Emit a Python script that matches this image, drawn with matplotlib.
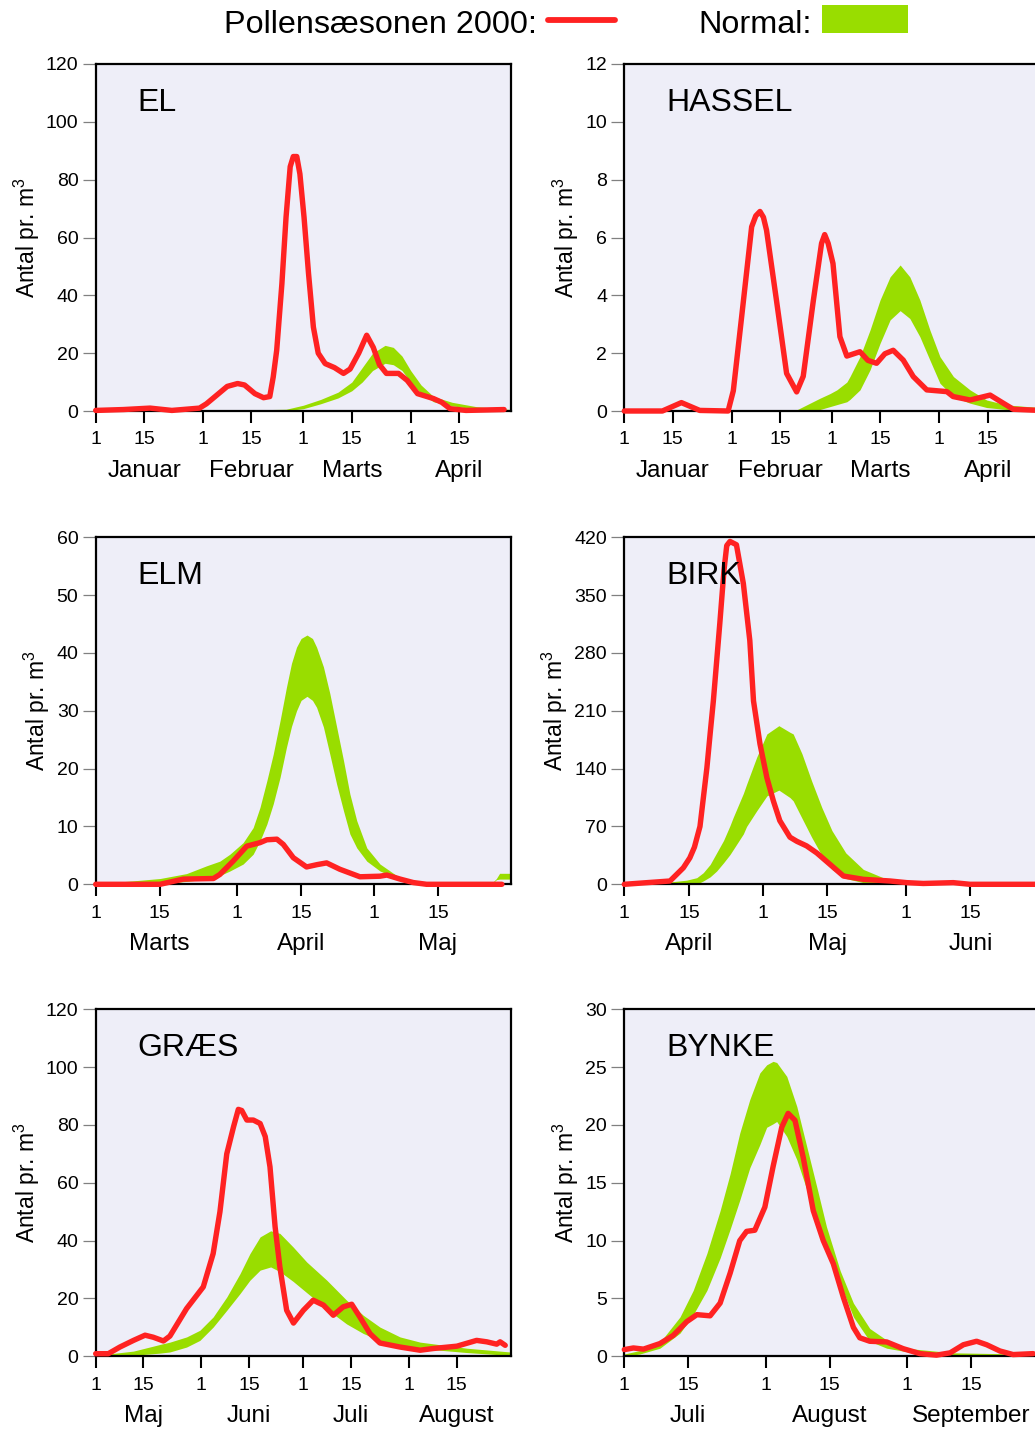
import matplotlib
matplotlib.use("Agg")
import matplotlib.pyplot as plt
from matplotlib.patches import Rectangle
from matplotlib.lines import Line2D
import numpy as np

plt.rcParams['font.family'] = ['Liberation Sans', 'DejaVu Sans']
plt.rcParams['mathtext.fontset'] = 'custom'
plt.rcParams['mathtext.rm'] = 'Liberation Sans'
plt.rcParams['mathtext.it'] = 'Liberation Sans:italic'

RED = '#ff2222'
GREEN = '#99dd00'
BG = '#eeeef8'

# months of 2000, danish names
month_names = ["Januar", "Februar", "Marts", "April", "Maj", "Juni",
               "Juli", "August", "September"]
month_days = [31, 29, 31, 30, 31, 30, 31, 31, 30]

# ---- EL (Jan-Apr), x = days since 1 Jan
el_red_day = [0, 8, 15.7, 22, 30, 32, 35, 38, 41, 43, 46, 48.5, 50.3, 51.3, 52.3, 53.8,
              55, 56.2, 57.1, 58.1, 59, 60.2, 61.5, 62.9, 64.3, 66.3, 69, 71.6, 73.5, 76,
              78.3, 80.2, 82, 84, 87.5, 90, 93, 97.6, 100, 102.4, 107, 118]
el_red_val = [0.2, 0.5, 1.0, 0.2, 1.0, 2.5, 5.5, 8.5, 9.5, 9.0, 6.0, 4.6, 5.0, 11.8, 21, 44,
              67, 84.5, 88, 88, 82, 67, 47.5, 29, 20, 16.4, 15, 13, 14.5, 20,
              26.2, 22, 16, 13, 13, 10.6, 6, 4.3, 3, 0.8, 0.2, 0.5]
el_norm_day = [0, 45, 55, 60, 65, 70, 74, 77, 80, 83.6, 86, 88.5, 91, 94, 97.6, 103, 110, 120]
el_norm_hi = [0.3, 0.4, 0.6, 2, 4, 6.5, 10, 15, 20, 22.7, 22, 19, 14, 9, 5, 3, 1.5, 0.5]
el_norm_lo = [0, 0, 0.1, 0.8, 2.5, 4.5, 7, 10, 14, 16.5, 16, 14, 10, 6, 3.2, 1.8, 0.6, 0]

# ---- HASSEL (Jan-Apr)
ha_red_day = [0, 11, 16.5, 21.8, 30, 31.5, 33.9, 36.8, 38, 39.2, 40.2, 41.1, 44, 46.9,
              49.8, 51.7, 54.6, 57, 57.9, 58.9, 60.3, 62.3, 64.3, 68.1, 70.4, 72.9, 75.3,
              77.7, 80.6, 83.5, 87.4, 93.2, 95, 99.9, 105.7, 109.5, 112.4, 120]
ha_red_val = [0, 0, 0.29, 0.02, 0, 0.7, 3.25, 6.37, 6.75, 6.9, 6.7, 6.25, 3.8, 1.3,
              0.66, 1.2, 3.8, 5.8, 6.1, 5.8, 5.1, 2.57, 1.9, 2.05, 1.75, 1.65, 1.98,
              2.1, 1.76, 1.19, 0.73, 0.67, 0.5, 0.38, 0.55, 0.27, 0.06, 0.02]
ha_norm_day = [0, 45, 50, 56.5, 59.4, 61.4, 64.3, 65.2, 68.1, 71.0, 73.9, 76.8, 79.7,
               82.5, 85.4, 88.3, 91.2, 95.1, 99.9, 104.7, 110.5, 120]
ha_norm_hi = [0, 0, 0.05, 0.44, 0.6, 0.73, 1.0, 1.19, 1.88, 2.8, 3.84, 4.64, 5.05,
              4.64, 3.84, 2.8, 1.88, 1.19, 0.73, 0.38, 0.21, 0.12]
ha_norm_lo = [0, 0, 0, 0.05, 0.15, 0.22, 0.32, 0.4, 0.73, 1.42, 2.34, 3.15, 3.47,
              3.2, 2.57, 1.76, 0.96, 0.49, 0.27, 0.12, 0.05, 0]

# ---- ELM (Mar-May), x = days since 1 Mar
elm_red_day = [0, 14.1, 19.2, 25.8, 27.2, 30.1, 33.1, 36.0, 37.5, 39.7, 41.1, 43.3, 46.2,
               48.5, 50.6, 53.5, 57.9, 62.3, 63.8, 66.7, 69.6, 72.5, 89.0]
elm_red_val = [0, 0, 0.9, 1.0, 1.7, 4.0, 6.6, 7.2, 7.7, 7.8, 6.9, 4.6, 3.0,
               3.4, 3.7, 2.6, 1.3, 1.4, 1.6, 0.9, 0.3, 0, 0]
elm_norm_day = [0, 8.3, 14.1, 19.9, 24.3, 27.2, 29.4, 32.3, 34.5, 36.0, 37.5, 38.9, 40.4,
                41.8, 42.9, 44.0, 45.0, 46.3, 47.5, 48.4, 49.9, 51.3, 52.8, 54.3, 55.7,
                57.2, 59.4, 62.3, 66.7, 70, 72.5, 86.7, 87.8, 88.5, 91]
elm_norm_hi = [0.1, 0.6, 1.0, 1.85, 3.2, 4.0, 5.2, 7.2, 9.8, 13.3, 17.9, 22.5, 28.3,
               34.1, 38.2, 41.0, 42.5, 43.1, 42.5, 41, 37.6, 33, 27.2, 21.4, 15.6,
               11, 6.3, 3.5, 1.1, 0.4, 0.2, 0.1, 1.0, 1.9, 1.9]
elm_norm_lo = [0, 0.05, 0.1, 0.5, 0.9, 1.5, 2.3, 3.5, 5.2, 7.5, 10.4, 13.9, 18.5,
               23.7, 27.3, 30.0, 31.8, 32.5, 31.8, 30.6, 27.2, 22.5, 17.3, 12.7, 8.7,
               6.3, 4.0, 2.3, 0.8, 0.1, 0, 0, 0.8, 0.9, 0.9]

# ---- BIRK (Apr-Jun), x = days since 1 Apr
bi_red_day = [0, 9.9, 12.8, 14.2, 15.2, 16.4, 17.9, 18.6, 19.3, 20.7, 21.6, 22.2, 22.9,
              24.3, 25.8, 27.2, 28.0, 29.4, 30.9, 32.3, 33.7, 35.9, 37.4, 39.5, 41.7,
              44.6, 47.5, 51.8, 57.6, 61.2, 64.8, 71.3, 74.9, 89.0]
bi_red_val = [0, 4, 20, 32, 45, 70, 141, 182, 222, 316, 380, 410, 415,
              411, 364, 295, 222, 170, 129, 101, 77, 57, 52, 46.5, 38,
              24, 10, 6, 4, 2, 1, 2, 0, 0]
bi_norm_day = [0, 8.5, 13.5, 15.7, 17.1, 18.6, 20.0, 21.5, 22.9, 23.6, 25.8, 26.5, 28.7,
               30.9, 33.5, 35.9, 36.6, 38.5, 40.6, 42.8, 45.0, 48.0, 51.8, 56.1, 61.2,
               78.6, 89.0]
bi_norm_hi = [0, 2, 5, 8, 14, 24, 38, 53, 71, 81, 110, 121, 154,
              182, 192, 184, 182, 158, 125, 93, 65, 38, 18, 8, 2,
              1, 3]
bi_norm_lo = [0, 0, 0, 0, 4, 9, 16, 26, 36, 42, 61, 70, 89,
              107, 114, 105, 101, 80, 57, 35, 18, 7, 2, 0, 0,
              0, 0]

# ---- GRAES (May-Aug), x = days since 1 May
gr_red_day = [0, 3.7, 7.1, 11.1, 14.5, 16.9, 19.9, 21.8, 26.7, 31.6, 34.5, 36.5,
              38.5, 40.5, 41.9, 42.9, 44.4, 46.3, 48.3, 49.8, 51.2, 52.7, 54.1, 56.1,
              58.1, 61.0, 63.9, 66.9, 69.8, 72.7, 75.2, 77.6, 80.6, 83.5, 89.4, 95.3,
              99.2, 106.1, 111.9, 114.9, 117.8, 118.8, 120.3]
gr_red_val = [0.9, 0.9, 3.2, 5.5, 7.3, 6.6, 5.3, 7.0, 16.5, 24, 35.5, 50,
              70, 79.4, 85.4, 85, 81.7, 81.7, 80.5, 76, 65.5, 44.8, 30.9, 15.9,
              11.5, 15.9, 19.4, 17.7, 14.2, 17.1, 18.0, 13.6, 7.8, 4.6, 3.2, 2.1,
              2.7, 3.5, 5.5, 5, 4.2, 5, 3.8]
gr_norm_day = [0, 11.1, 18.9, 21.8, 26.7, 30.6, 34.5, 38.5, 42.4, 45.3, 48.3, 51.4,
               54.1, 58.0, 62.0, 67.9, 73.7, 78.6, 83.5, 89.4, 95.3, 109.0, 121.7]
gr_norm_hi = [0.3, 1.8, 4.1, 4.9, 6.7, 9.0, 13.6, 20.5, 28.6, 35.5, 41.3, 43.4,
              42.5, 37.8, 32.6, 26.3, 19.4, 14.2, 10.1, 6.7, 4.9, 2.8, 1.5]
gr_norm_lo = [0, 0.35, 1.1, 1.5, 3.2, 5.5, 10.1, 15.9, 21.7, 26.3, 29.8, 30.9,
              29.3, 25.9, 22.0, 16.3, 11.2, 7.9, 5.5, 3.2, 2.7, 1.3, 0.3]

# ---- BYNKE (Jul-Sep), x = days since 1 Jul
by_red_day = [0, 2.0, 4.2, 7.8, 10.7, 13.7, 15.9, 18.8, 21.0, 23.2, 25.3, 26.8, 28.6,
              30.8, 32.6, 34.5, 35.9, 37.4, 39.2, 41.4, 43.6, 45.8, 48.0, 50.2, 51.6,
              53.8, 57.5, 61.1, 64.8, 68.4, 71.4, 74.3, 77.2, 79.4, 82.3, 85.2, 89.6]
by_red_val = [0.58, 0.72, 0.62, 1.1, 1.8, 3.0, 3.6, 3.5, 4.6, 7.2, 10.0, 10.8, 10.9,
              12.9, 16.4, 19.8, 21.0, 20.4, 17.2, 12.6, 10.0, 8.0, 5.1, 2.5, 1.6,
              1.3, 1.24, 0.66, 0.23, 0.1, 0.3, 1.0, 1.3, 1.0, 0.46, 0.15, 0.23]
by_norm_day = [0, 3.4, 7.8, 12.2, 15.1, 18.1, 21.0, 23.2, 25.3, 27.5, 29.7, 31.2, 32.6,
               33.4, 35.6, 37.8, 40.0, 42.2, 44.3, 47.3, 50.2, 53.8, 57.5, 62.6, 72.1, 91]
by_norm_hi = [0.2, 0.5, 1.2, 3.4, 5.7, 8.9, 12.6, 15.8, 19.3, 22.2, 24.5, 25.2, 25.5,
              25.4, 24.2, 21.6, 18.1, 14.6, 11.2, 7.4, 4.6, 2.4, 1.4, 0.66, 0.3, 0.17]
by_norm_lo = [0, 0.2, 0.7, 2.0, 3.6, 5.7, 8.5, 11, 13.5, 16.3, 18.3, 19.8, 20.1,
              20.3, 19.0, 17.0, 14.4, 11.5, 9.2, 6.3, 3.4, 1.3, 0.7, 0.35, 0.1, 0]

fig = plt.figure(figsize=(10.35, 14.29), dpi=100)

W, H = 1035.0, 1429.0
col_x = [95.7, 624.3]
row_top = [64, 537.3, 1009.3]
ax_w, ax_h = 415.3, 347.0


def panel(row, col, name, m0, nm, ymax, ystep, nd, lo, hi, rd, rv):
    left = col_x[col] / W
    bottom = 1 - (row_top[row] + ax_h) / H
    ax = fig.add_axes([left, bottom, ax_w / W, ax_h / H])
    ax.set_facecolor(BG)

    ax.fill_between(nd, lo, hi, color=GREEN, lw=0, zorder=2)
    ax.plot(rd, rv, color=RED, lw=3.9, solid_joinstyle='round',
            solid_capstyle='round', zorder=3, clip_on=False)

    # month ticks: 1st and 15th
    starts = np.concatenate([[0], np.cumsum(month_days[m0:m0 + nm])])
    ticks, labels = [], []
    for s in starts[:-1]:
        ticks += [s, s + 14]
        labels += ['1', '15']
    ax.set_xlim(0, starts[-1] - 1)
    ax.set_xticks(ticks)
    ax.set_xticklabels(labels)
    ax.tick_params(axis='x', length=8.6, width=1.5, color='black',
                   labelsize=14, pad=6)
    for i, s in enumerate(starts[:-1]):
        ax.annotate(month_names[m0 + i], xy=(s + 14, 0),
                    xycoords=('data', 'axes fraction'), xytext=(0, -47.5),
                    textcoords='offset points', ha='center', va='baseline',
                    fontsize=17.5, annotation_clip=False)

    ax.set_ylim(0, ymax)
    ax.set_yticks(np.arange(0, ymax + 0.1, ystep))
    ax.tick_params(axis='y', length=9.4, width=0.9, color='#808080',
                   labelsize=14, pad=3)
    ax.set_ylabel('Antal pr. m$^3$', fontsize=16.5, labelpad=3)

    for sp in ax.spines.values():
        sp.set_linewidth(1.6)
        sp.set_color('black')

    ax.text(42 / ax_w, 0.864, name, transform=ax.transAxes, fontsize=23,
            va='baseline', ha='left', zorder=4)
    return ax


panel(0, 0, "EL", 0, 4, 120, 20, el_norm_day, el_norm_lo, el_norm_hi, el_red_day, el_red_val)
panel(0, 1, "HASSEL", 0, 4, 12, 2, ha_norm_day, ha_norm_lo, ha_norm_hi, ha_red_day, ha_red_val)
panel(1, 0, "ELM", 2, 3, 60, 10, elm_norm_day, elm_norm_lo, elm_norm_hi, elm_red_day, elm_red_val)
panel(1, 1, "BIRK", 3, 3, 420, 70, bi_norm_day, bi_norm_lo, bi_norm_hi, bi_red_day, bi_red_val)
panel(2, 0, "GRÆS", 4, 4, 120, 20, gr_norm_day, gr_norm_lo, gr_norm_hi, gr_red_day, gr_red_val)
panel(2, 1, "BYNKE", 6, 3, 30, 5, by_norm_day, by_norm_lo, by_norm_hi, by_red_day, by_red_val)

# legend along the top
fig.text(224 / W, 1 - 33 / H, "Pollensæsonen 2000:", fontsize=23.3, va='baseline')
fig.add_artist(Line2D([548 / W, 615 / W], [1 - 20 / H, 1 - 20 / H], color=RED,
                      lw=4.2, solid_capstyle='round'))
fig.text(698 / W, 1 - 33 / H, "Normal:", fontsize=23.3, va='baseline')
fig.add_artist(Rectangle((822 / W, 1 - 33 / H), 86 / W, 28 / H, color=GREEN, lw=0))

fig.savefig("out.png", dpi=100)
